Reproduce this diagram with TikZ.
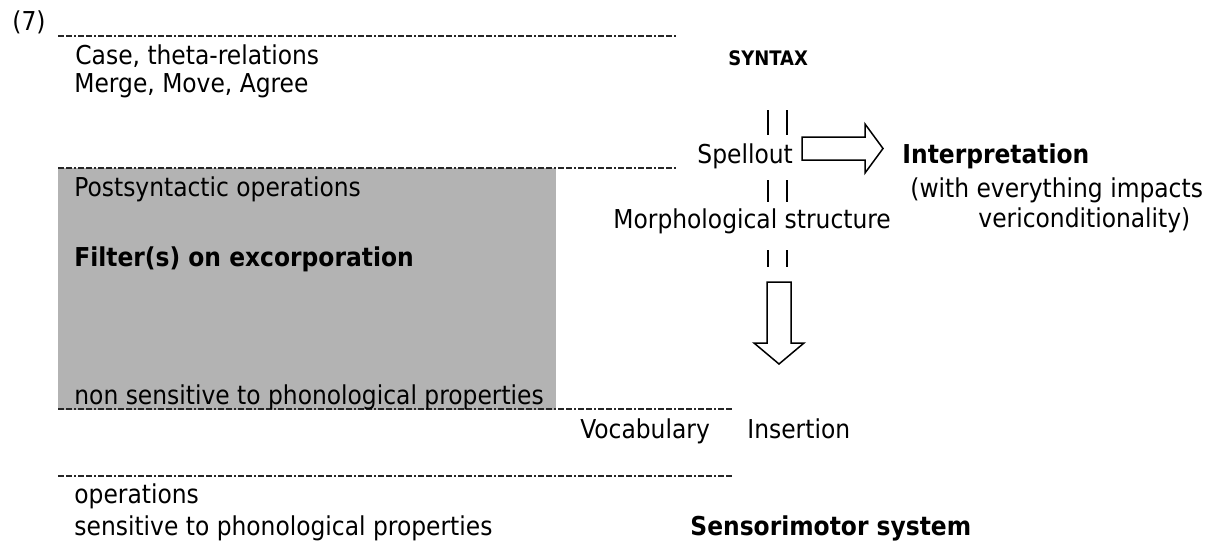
\documentclass[tikz,border=0pt]{standalone}
\usepackage{fontspec}
\setmainfont{DejaVu Sans Condensed}
\usetikzlibrary{positioning}

\begin{document}
\begin{tikzpicture}[
  x=0.5pt,y=-0.5pt,
  every node/.style={inner sep=0pt,anchor=base west,font=\fontsize{13}{15}\selectfont},
  strong/.style={font=\fontsize{13}{15}\selectfont\bfseries},
  tag/.style={font=\fontsize{10}{12}\selectfont\bfseries},
  level/.style={draw=black!85,line width=0.65pt,dash pattern=on 3pt off 1pt on 3pt off 1pt on 1pt off 1pt},
  bars/.style={line width=0.9pt},
  fat/.style={draw,line width=0.75pt,fill=white,line join=miter}]

  \definecolor{boxgray}{RGB}{179,179,179}
  \useasboundingbox (0,0) rectangle (1208,540);

  % Shaded block of postsyntactic operations
  \fill[boxgray] (58,168) rectangle (556,410);

  % Dashed level lines
  \draw[level] (58,36) -- (677,36);
  \draw[level] (58,168) -- (678,168);
  \draw[level] (58,409) -- (732,409);
  \draw[level] (58,476) -- (732,476);

  % Left column texts
  \node (num) at (12,31) {(7)};
  \node (case) at (75,65) {Case, theta-relations};
  \node (merge) at (74,93) {Merge, Move, Agree};
  \node (postsyn) at (74,196) {Postsyntactic operations};
  \node[strong] (filter) at (74,266) {Filter(s) on excorporation};
  \node (nonsens) at (74,404) {non sensitive to phonological properties};
  \node (ops) at (74,503) {operations};
  \node (sens) at (74,535) {sensitive to phonological properties};

  % Derivation column
  \node[tag] (syntax) at (728,66) {SYNTAX};
  \node (spellout) at (697,163) {Spellout};
  \node (morph) at (613,228) {Morphological structure};
  \node (vocab) at (580,438) {Vocabulary};
  \node (insert) at (747,438) {Insertion};
  \node[strong] (sensori) at (690,535) {Sensorimotor system};

  % Interpretive side
  \node[strong] (interp) at (902,163) {Interpretation};
  \node (with) at (910,197) {(with everything impacts};
  \node (veri) at (978,227) {vericonditionality)};

  % Double bars between the stages
  \foreach \a/\b in {110/135,180/202,250/267}
    \draw[bars] (768,\a) -- (768,\b) (787,\a) -- (787,\b);

  % Block arrows
  \draw[fat] (802,137) -- (865,137) -- (865,124) -- (883,148.5) -- (865,173)
    -- (865,160) -- (802,160) -- cycle;
  \draw[fat] (767,282) -- (791,282) -- (791,343) -- (804,343) -- (779,364)
    -- (754,343) -- (767,343) -- cycle;
\end{tikzpicture}
\end{document}
